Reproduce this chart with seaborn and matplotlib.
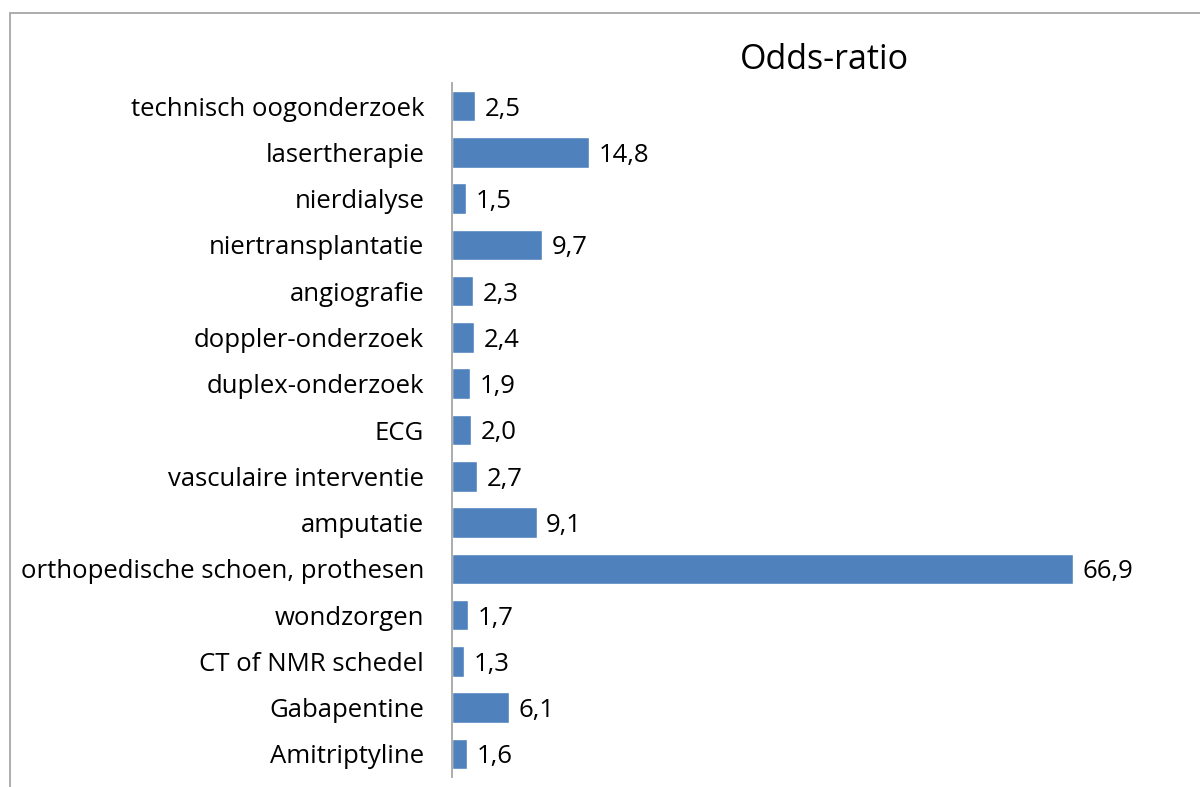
import matplotlib
matplotlib.use('Agg')
import matplotlib.pyplot as plt
import matplotlib.patches as patches
import seaborn as sns

categories = ['technisch oogonderzoek', 'lasertherapie', 'nierdialyse', 'niertransplantatie',
              'angiografie', 'doppler-onderzoek', 'duplex-onderzoek', 'ECG',
              'vasculaire interventie', 'amputatie', 'orthopedische schoen, prothesen',
              'wondzorgen', 'CT of NMR schedel', 'Gabapentine', 'Amitriptyline']
odds_ratio = [2.5, 14.8, 1.5, 9.7, 2.3, 2.4, 1.9, 2.0, 2.7, 9.1, 66.9, 1.7, 1.3, 6.1, 1.6]

sns.set_style('white')
plt.rcParams['font.family'] = ['Open Sans', 'DejaVu Sans']
plt.rcParams['text.color'] = 'black'
plt.rcParams['ytick.color'] = 'black'

fig = plt.figure(figsize=(12, 7.87), dpi=100)
ax = fig.add_axes([452 / 1200, 10 / 787, 728 / 1200, 694 / 787])

sns.barplot(x=odds_ratio, y=categories, color='#4F81BD', saturation=1,
            width=0.66, orient='h', ax=ax)

ax.set_xlim(0, 78.4)
ax.set_ylim(14.5, -0.5)
for side in ['top', 'right', 'bottom']:
    ax.spines[side].set_visible(False)
ax.spines['left'].set_color('#a6a6a6')
ax.spines['left'].set_linewidth(1.3)
ax.set_xticks([])
ax.tick_params(axis='y', length=0, pad=20, labelsize=18.5, labelcolor='black')
ax.set_xlabel('')
ax.set_ylabel('')

texts = ax.bar_label(ax.containers[0], labels=[f'{v:.1f}'.replace('.', ',') for v in odds_ratio],
                     padding=7, fontsize=18.5, color='black')
for t in texts:
    t.set_va('center_baseline')

fig.text(824 / 1200, 1 - 60 / 787, 'Odds-ratio', ha='center', va='center', fontsize=24.5,
         color='black')

fig.patches.append(patches.Rectangle((10 / 1200, -0.05), 1.2, 1 - 13 / 787 + 0.05,
                                     transform=fig.transFigure, fill=False,
                                     edgecolor='#a0a0a0', linewidth=1.2))

fig.savefig('out.png', dpi=100)
